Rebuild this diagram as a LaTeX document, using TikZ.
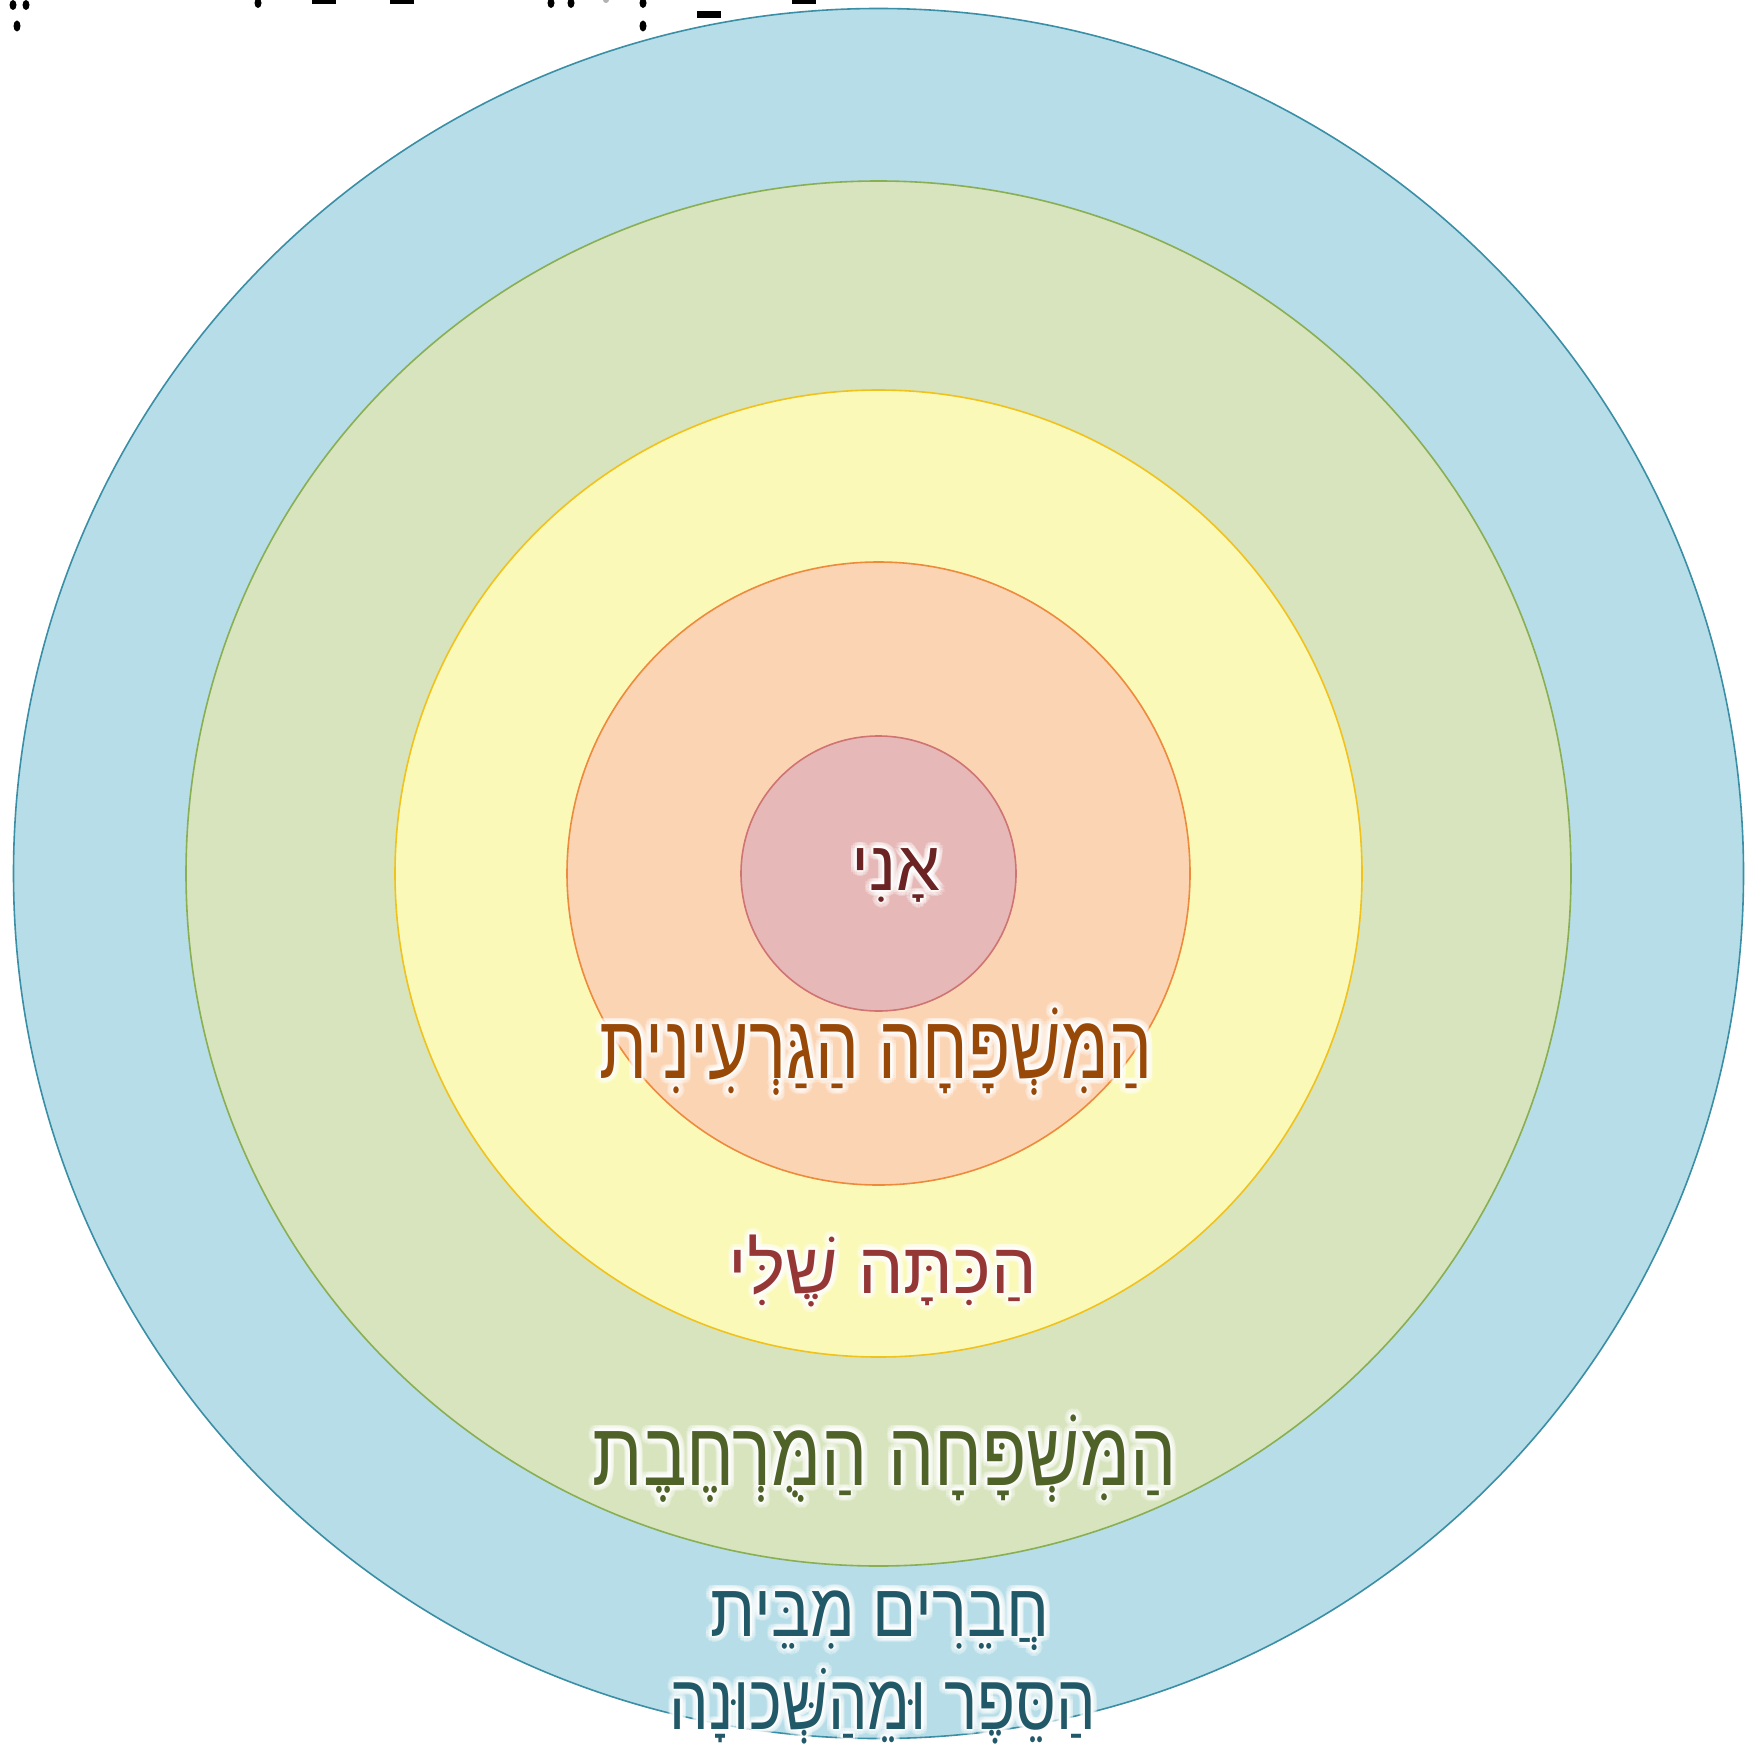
\documentclass[tikz,border=0pt]{standalone}
\usepackage{fontspec}
\usepackage{graphicx}
\TeXXeTstate=1
\newfontfamily\hebfont[Script=Hebrew]{Liberation Sans}
\usetikzlibrary{calc}
\definecolor{bluefill}{HTML}{B7DEE8}
\definecolor{blueline}{HTML}{3A8FA6}
\definecolor{greenfill}{HTML}{D7E4BD}
\definecolor{greenline}{HTML}{8AAE52}
\definecolor{yellowfill}{HTML}{FAF9B7}
\definecolor{yellowline}{HTML}{F2C21C}
\definecolor{orangefill}{HTML}{FBD4B4}
\definecolor{orangeline}{HTML}{EE8A3C}
\definecolor{pinkfill}{HTML}{E6B9B8}
\definecolor{pinkline}{HTML}{CF7472}
\definecolor{tani}{HTML}{6B2323}
\definecolor{tnuc}{HTML}{984807}
\definecolor{tclass}{HTML}{953735}
\definecolor{textgreen}{HTML}{4F6228}
\definecolor{tfriend}{HTML}{215968}
\tikzset{
  ring/.style={line width=1.6pt},
  titlemark/.style={fill=black},
}
% #1 name, #2 coordinate, #3 colour, #4 size, #5 horizontal scale, #6 text
\newcommand\glowlabel[6]{%
  \foreach \ang in {0,22.5,...,337.5}{
    \node[text=white, opacity=0.25, anchor=base, inner sep=0pt,
          font=\hebfont\fontsize{#4}{#4}\selectfont]
      (#1-o\ang) at ($(#2)+(\ang:6)$) {\scalebox{#5}[1]{\beginR #6\endR}};
  }
  \foreach \ang in {0,45,...,315}{
    \node[text=white, opacity=0.5, anchor=base, inner sep=0pt,
          font=\hebfont\fontsize{#4}{#4}\selectfont]
      (#1-i\ang) at ($(#2)+(\ang:2.5)$) {\scalebox{#5}[1]{\beginR #6\endR}};
  }
  \node[text=#3, anchor=base, inner sep=0pt,
        font=\hebfont\fontsize{#4}{#4}\selectfont]
    (#1) at (#2) {\scalebox{#5}[1]{\beginR #6\endR}};
}
\begin{document}
\begin{tikzpicture}[x=1pt,y=-1pt]
\useasboundingbox (0,0) rectangle (1747,1752);
\fill[white] (0,0) rectangle (1747,1752);
\coordinate (c) at (878.5,873.5);
\draw[ring, fill=bluefill, draw=blueline] (c) circle[radius=865pt];
\draw[ring, fill=greenfill, draw=greenline] (c) circle[radius=692.5pt];
\draw[ring, fill=yellowfill, draw=yellowline] (c) circle[radius=483.5pt];
\draw[ring, fill=orangefill, draw=orangeline] (c) circle[radius=311.5pt];
\draw[ring, fill=pinkfill, draw=pinkline] (c) circle[radius=137.5pt];

% fragments of the cut-off title at the top edge
\begin{scope}[titlemark]
  \fill (13,5) ellipse[x radius=3.5pt, y radius=5pt];
  \fill (26,5) ellipse[x radius=3.5pt, y radius=5pt];
  \fill (17,26) ellipse[x radius=3.5pt, y radius=5.5pt];
  \fill (258,3) ellipse[x radius=3.5pt, y radius=5pt];
  \fill (312,-3) rectangle (336,4);
  \fill (390,-3) rectangle (414,4);
  \fill (551,3) ellipse[x radius=3.5pt, y radius=5pt];
  \fill (571,3) ellipse[x radius=3.5pt, y radius=5pt];
  \fill[gray!60] (606,0) ellipse[x radius=3pt, y radius=3pt];
  \fill (643,3) ellipse[x radius=3.5pt, y radius=5pt];
  \fill (643,26) ellipse[x radius=3.5pt, y radius=5.5pt];
  \fill (697,11) rectangle (721,18);
  \fill (792,-3) rectangle (816,4);
\end{scope}

\coordinate (pani) at (896,890);
\coordinate (pnuc) at (876,1078);
\coordinate (pcls) at (883,1293);
\coordinate (pext) at (884.5,1485);
\coordinate (pfr1) at (880,1636);
\coordinate (pfr2) at (883,1729);

\glowlabel{ani}{pani}{tani}{70}{1}{אָנִי}
\glowlabel{nuc}{pnuc}{tnuc}{90}{0.77}{הַמִּשְׁפָּחָה הַגַּרְעִינִית}
\glowlabel{cls}{pcls}{tclass}{72}{1}{הַכִּתָּה שֶׁלִּי}
\glowlabel{ext}{pext}{textgreen}{90}{0.81}{הַמִּשְׁפָּחָה הַמֻּרְחֶבֶת}
\glowlabel{fr1}{pfr1}{tfriend}{75}{0.87}{חֲבֵרִים מִבֵּית}
\glowlabel{fr2}{pfr2}{tfriend}{78}{0.80}{הַסֵּפֶר וּמֵהַשְּׁכוּנָה}
\end{tikzpicture}
\end{document}
